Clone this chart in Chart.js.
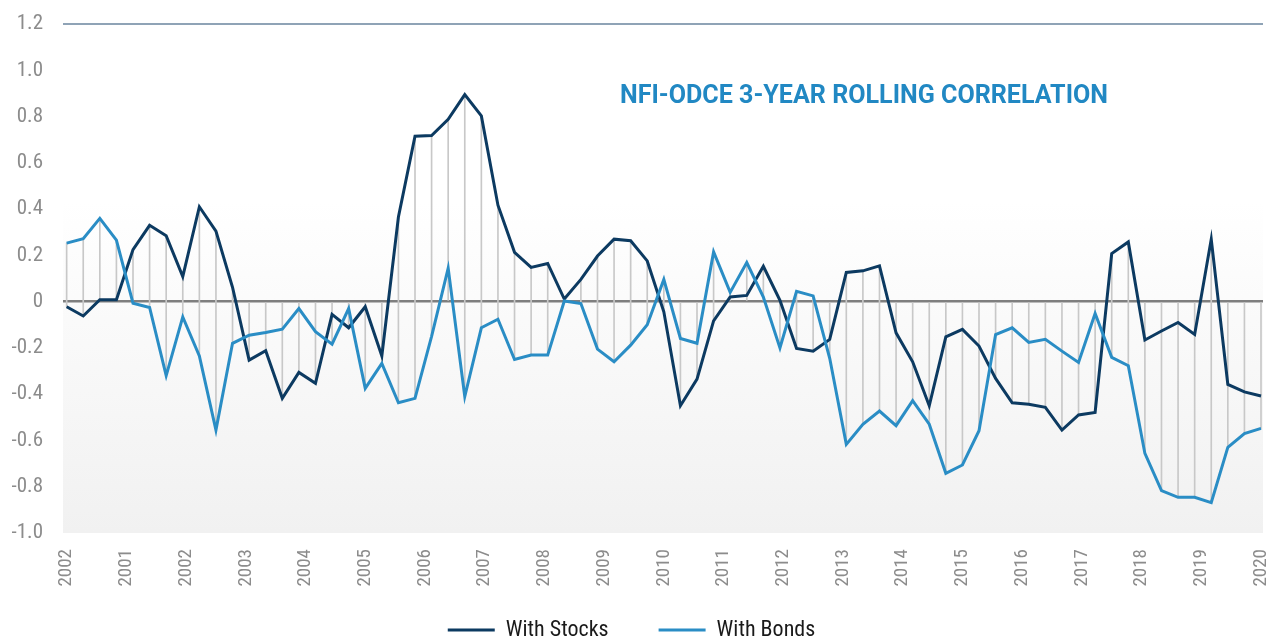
<!DOCTYPE html>
<html>
<head>
<meta charset="utf-8">
<script src="https://cdn.jsdelivr.net/npm/chart.js@4.4.1/dist/chart.umd.min.js"></script>
<style>
  html, body { margin: 0; padding: 0; background: #fff; overflow: hidden; }
  #wrap { width: 1274px; height: 676px; }
</style>
</head>
<body>
<div id="wrap"><canvas id="corrChart" width="1274" height="676"></canvas></div>
<script>
// quarterly rolling correlation
const yearLabels = ['2002', '2001', '2002', '2003', '2004', '2005', '2006', '2007', '2008', '2009', '2010',
  '2011', '2012', '2013', '2014', '2015', '2016', '2017', '2018', '2019', '2020'];

const withStocks = [
  -0.022, -0.062, 0.008, 0.008, 0.225, 0.33, 0.285, 0.108, 0.41, 0.305,
  0.062, -0.253, -0.212, -0.418, -0.306, -0.353, -0.055, -0.113, -0.022, -0.235,
  0.366, 0.715, 0.718, 0.788, 0.895, 0.803, 0.417, 0.213, 0.148, 0.165,
  0.011, 0.096, 0.197, 0.27, 0.263, 0.176, -0.044, -0.45, -0.335, -0.083,
  0.02, 0.027, 0.153, 0.006, -0.202, -0.214, -0.163, 0.126, 0.133, 0.155,
  -0.135, -0.26, -0.45, -0.152, -0.12, -0.192, -0.332, -0.437, -0.444, -0.457,
  -0.555, -0.49, -0.479, 0.208, 0.258, -0.166, -0.127, -0.09, -0.142, 0.27,
  -0.358, -0.39, -0.408
];

const withBonds = [
  0.253, 0.272, 0.36, 0.266, -0.007, -0.025, -0.32, -0.066, -0.235, -0.555,
  -0.18, -0.145, -0.133, -0.119, -0.03, -0.13, -0.184, -0.03, -0.375, -0.267,
  -0.437, -0.418, -0.15, 0.145, -0.41, -0.113, -0.076, -0.25, -0.231, -0.231,
  0.003, -0.008, -0.205, -0.26, -0.188, -0.10, 0.096, -0.159, -0.18, 0.215,
  0.04, 0.169, 0.02, -0.2, 0.045, 0.025, -0.245, -0.617, -0.53, -0.473,
  -0.536, -0.428, -0.53, -0.742, -0.706, -0.558, -0.142, -0.113, -0.176, -0.163,
  -0.214, -0.263, -0.051, -0.241, -0.277, -0.656, -0.817, -0.846, -0.846, -0.869,
  -0.63, -0.57, -0.548
];

const chartTitle = 'NFI-ODCE 3-YEAR ROLLING CORRELATION';
const narrowFont = '"Roboto Condensed", "Liberation Sans Narrow", "DejaVu Sans Condensed", Roboto, sans-serif';

const lastIdx = withStocks.length - 1;

// grey shading over the plot area
const plotBackground = {
  id: 'plotBackground',
  beforeDraw(chart) {
    const { ctx, chartArea: a } = chart;
    const g = ctx.createLinearGradient(0, a.top, 0, a.bottom);
    g.addColorStop(0, '#ffffff');
    g.addColorStop(0.35, '#ffffff');
    g.addColorStop(1, '#f1f1f1');
    ctx.save();
    ctx.fillStyle = g;
    ctx.fillRect(a.left, a.top, a.right - a.left, a.bottom - a.top);
    ctx.restore();
  }
};

// legend sits a bit higher, overlapping the empty space under the year labels
const legendLift = {
  id: 'legendLift',
  afterLayout(chart) {
    chart.legend.top -= 25;
    chart.legend.bottom -= 25;
  }
};

// condensed blue heading inside the plot
const innerTitle = {
  id: 'innerTitle',
  afterDraw(chart) {
    const ctx = chart.ctx;
    ctx.save();
    ctx.font = 'bold 26px Roboto, sans-serif';
    const w = ctx.measureText(chartTitle).width;
    ctx.translate(620, 96);
    ctx.scale(488 / w, 1);
    ctx.fillStyle = '#2188c3';
    ctx.textAlign = 'left';
    ctx.textBaseline = 'middle';
    ctx.fillText(chartTitle, 0, 0);
    ctx.restore();
  }
};

new Chart(document.getElementById('corrChart'), {
  data: {
    datasets: [{
      type: 'line',
      label: 'With Stocks',
      data: withStocks.map((v, i) => ({ x: i, y: v })),
      borderColor: '#0c3a61',
      backgroundColor: '#0c3a61',
      borderWidth: 3,
      pointRadius: 0,
      tension: 0,
      order: 1
    },
    {
      type: 'line',
      label: 'With Bonds',
      data: withBonds.map((v, i) => ({ x: i, y: v })),
      borderColor: '#2a8dc5',
      backgroundColor: '#2a8dc5',
      borderWidth: 3,
      pointRadius: 0,
      tension: 0,
      order: 0
    },
    {
      type: 'bar',
      label: 'range',
      data: withStocks.map((s, i) => ({
        x: i,
        y: [Math.min(0, s, withBonds[i]), Math.max(0, s, withBonds[i])]
      })),
      backgroundColor: '#c8c8c8',
      barThickness: 1,
      order: 3
    }]
  },
  options: {
    responsive: false,
    animation: false,
    layout: { padding: { top: 24, right: 11, left: 0, bottom: 0 } },
    scales: {
      x: {
        type: 'linear',
        offset: false,
        min: -0.22,
        max: lastIdx + 0.12,
        afterBuildTicks(scale) {
          scale.ticks = yearLabels.map((_, i) => ({ value: i * lastIdx / (yearLabels.length - 1) }));
        },
        afterFit(scale) {
          scale.height = 61;
          scale.paddingLeft = 0;
          scale.paddingRight = 0;
        },
        grid: { display: false, drawTicks: false },
        border: { display: false },
        ticks: {
          autoSkip: false,
          maxRotation: 90,
          minRotation: 90,
          padding: 16,
          color: '#8c8c8c',
          font: { family: narrowFont, size: 19 },
          callback: (v, i) => yearLabels[i]
        }
      },
      y: {
        min: -1.0,
        max: 1.2,
        afterFit(scale) {
          scale.width = 63;
          scale.paddingTop = 0;
          scale.paddingBottom = 0;
        },
        border: { display: false },
        grid: {
          drawTicks: false,
          color: c => {
            if (Math.abs(c.tick.value) < 1e-9) return '#7f7f7f';
            if (Math.abs(c.tick.value - 1.2) < 1e-9) return '#8fa3b6';
            return 'rgba(0,0,0,0)';
          },
          lineWidth: c => (Math.abs(c.tick.value) < 1e-9 ? 2.5 : 2)
        },
        ticks: {
          stepSize: 0.2,
          padding: 20,
          color: '#8c8c8c',
          font: { family: narrowFont, size: 21 },
          callback: v => (Math.abs(v) < 1e-9 ? '0' : v.toFixed(1))
        }
      }
    },
    plugins: {
      tooltip: { enabled: false },
      legend: {
        position: 'bottom',
        labels: {
          boxWidth: 47,
          boxHeight: 3,
          padding: 50,
          color: '#1a1a1a',
          font: { family: narrowFont, size: 22 },
          sort: (a, b) => a.datasetIndex - b.datasetIndex,
          generateLabels: chart => Chart.defaults.plugins.legend.labels.generateLabels(chart)
            .filter(l => l.datasetIndex < 2)
            .map(l => ({ ...l, fillStyle: l.strokeStyle, lineWidth: 0 }))
        }
      }
    }
  },
  plugins: [plotBackground, legendLift, innerTitle]
});
</script>
</body>
</html>
